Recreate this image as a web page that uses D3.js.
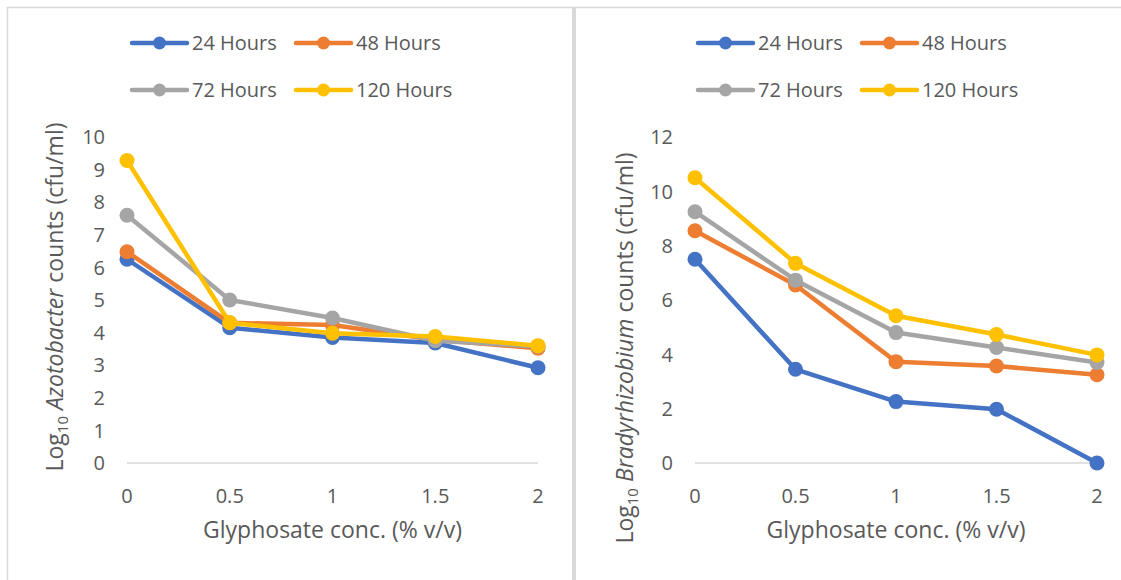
<!DOCTYPE html>
<html>
<head>
<meta charset="utf-8">
<script src="https://cdn.jsdelivr.net/npm/d3@7"></script>
<style>
  html, body { margin: 0; padding: 0; background: #fff; }
  svg { display: block; font-family: "Open Sans", sans-serif; }
</style>
</head>
<body>
<div id="chart"></div>
<script>
// Glyphosate concentrations (% v/v) and their tick labels
const concs = [0, 0.5, 1, 1.5, 2];
const concLabels = ['0', '0.5', '1', '1.5', '2'];

// Series names and colours
const seriesNames = ['24 Hours', '48 Hours', '72 Hours', '120 Hours'];
const seriesColors = ['#4472C4', '#ED7D31', '#A5A5A5', '#FFC000'];

// Log10 Azotobacter counts (cfu/ml)
const azo24 = [6.25, 4.15, 3.85, 3.68, 2.92];
const azo48 = [6.48, 4.30, 4.23, 3.78, 3.52];
const azo72 = [7.60, 5.00, 4.45, 3.75, 3.58];
const azo120 = [9.28, 4.30, 3.98, 3.88, 3.60];

// Log10 Bradyrhizobium counts (cfu/ml)
const bra24 = [7.50, 3.45, 2.26, 1.98, 0];
const bra48 = [8.55, 6.55, 3.73, 3.57, 3.25];
const bra72 = [9.25, 6.73, 4.80, 4.25, 3.70];
const bra120 = [10.50, 7.35, 5.42, 4.73, 3.98];

// Y axis ticks
const azoTicks = [0, 1, 2, 3, 4, 5, 6, 7, 8, 9, 10];
const braTicks = [0, 2, 4, 6, 8, 10, 12];

const W = 1121, H = 580;
const textColor = '#595959';
const borderColor = '#d9d9d9';

const svg = d3.select('#chart')
  .append('svg')
  .attr('width', W)
  .attr('height', H);

// panel borders
svg.append('line').attr('x1', 7).attr('x2', W).attr('y1', 7.5).attr('y2', 7.5)
  .attr('stroke', borderColor).attr('stroke-width', 1.5);
svg.append('line').attr('x1', 7.5).attr('x2', 7.5).attr('y1', 7).attr('y2', H)
  .attr('stroke', borderColor).attr('stroke-width', 1.5);
svg.append('rect').attr('x', 572).attr('y', 7).attr('width', 4).attr('height', H - 7)
  .attr('fill', borderColor);

function drawPanel(p) {
  const g = svg.append('g');

  const x = d3.scalePoint()
    .domain(concs)
    .range([p.left, p.right])
    .padding(0);

  const y = d3.scaleLinear()
    .domain([0, d3.max(p.ticks)])
    .range([463, 137]);

  // baseline at 0
  g.append('line')
    .attr('x1', p.left).attr('x2', p.right)
    .attr('y1', y(0)).attr('y2', y(0))
    .attr('stroke', borderColor)
    .attr('stroke-width', 1.5);

  // y tick labels
  g.selectAll('.ytick')
    .data(p.ticks)
    .enter()
    .append('text')
    .attr('x', p.left - 22)
    .attr('y', d => y(d))
    .attr('dy', '0.36em')
    .attr('text-anchor', 'end')
    .attr('fill', textColor)
    .style('font-size', '20px')
    .text(d => d);

  // x tick labels
  g.selectAll('.xtick')
    .data(concs)
    .enter()
    .append('text')
    .attr('x', d => x(d))
    .attr('y', 503)
    .attr('text-anchor', 'middle')
    .attr('fill', textColor)
    .style('font-size', '20px')
    .text((d, i) => concLabels[i]);

  // x axis title
  g.append('text')
    .attr('x', (p.left + p.right) / 2)
    .attr('y', 538)
    .attr('text-anchor', 'middle')
    .attr('fill', textColor)
    .style('font-size', '23px')
    .text('Glyphosate conc. (% v/v)');

  // y axis title with subscript and italic organism name
  const yt = g.append('text')
    .attr('transform', `translate(${p.titleX},${p.titleY}) rotate(-90)`)
    .attr('text-anchor', 'middle')
    .attr('fill', textColor)
    .style('font-size', '23px');
  yt.append('tspan').text('Log');
  yt.append('tspan').attr('dy', 5).style('font-size', '15px').text('10');
  yt.append('tspan').attr('dy', -5).text(' ');
  yt.append('tspan').style('font-style', 'italic').text(p.organism);
  yt.append('tspan').text(' counts (cfu/ml)');

  // lines and markers
  const line = d3.line()
    .x((d, i) => x(concs[i]))
    .y(d => y(d));

  p.series.forEach((vals, s) => {
    g.append('path')
      .datum(vals)
      .attr('d', line)
      .attr('fill', 'none')
      .attr('stroke', seriesColors[s])
      .attr('stroke-width', 4.5)
      .attr('stroke-linejoin', 'round');

    g.selectAll('.pt' + s)
      .data(vals)
      .enter()
      .append('circle')
      .attr('cx', (d, i) => x(concs[i]))
      .attr('cy', d => y(d))
      .attr('r', 7.5)
      .attr('fill', seriesColors[s]);
  });

  // legend, 2 x 2
  seriesNames.forEach((name, s) => {
    const lx = p.legendX + (s % 2) * 164;
    const ly = s < 2 ? 43 : 90;
    const lg = g.append('g');
    lg.append('line')
      .attr('x1', lx).attr('x2', lx + 55)
      .attr('y1', ly).attr('y2', ly)
      .attr('stroke', seriesColors[s])
      .attr('stroke-width', 4.5)
      .attr('stroke-linecap', 'round');
    lg.append('circle')
      .attr('cx', lx + 27.5).attr('cy', ly)
      .attr('r', 6.5)
      .attr('fill', seriesColors[s]);
    lg.append('text')
      .attr('x', lx + 60)
      .attr('y', ly)
      .attr('dy', '0.36em')
      .attr('fill', textColor)
      .style('font-size', '20px')
      .text(name);
  });
}

drawPanel({
  left: 127, right: 538,
  ticks: azoTicks,
  organism: 'Azotobacter',
  series: [azo24, azo48, azo72, azo120],
  titleX: 63, titleY: 297,
  legendX: 132
});

drawPanel({
  left: 695, right: 1097,
  ticks: braTicks,
  organism: 'Bradyrhizobium',
  series: [bra24, bra48, bra72, bra120],
  titleX: 633, titleY: 348,
  legendX: 698
});
</script>
</body>
</html>
